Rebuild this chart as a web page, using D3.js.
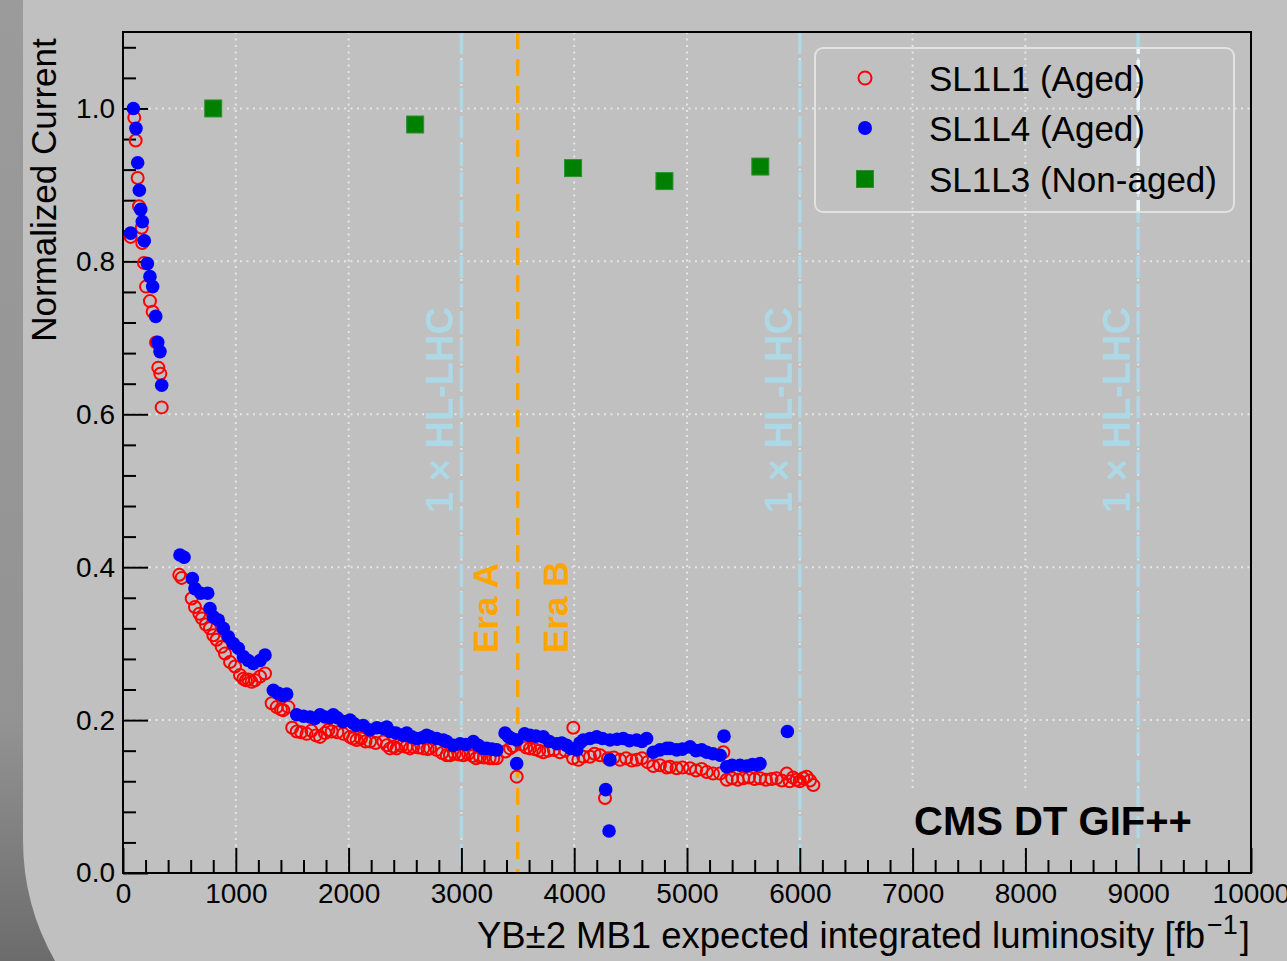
<!DOCTYPE html>
<html><head><meta charset="utf-8">
<script src="https://cdn.jsdelivr.net/npm/d3@7"></script>
<style>
body{margin:0;background:#c0c0c0;overflow:hidden;}
svg{display:block;font-family:"Liberation Sans",Arial,Helvetica,sans-serif;}
</style>
</head><body>
<svg id="chart" width="1287" height="961"></svg>
<script>
// ---------- data ----------
const sl1l1X = [68,100,112,130,142,166,171,186,204,239,263,293,313,331,343,
 499,520,609,638,677,700,735,771,801,830,875,904,949,993,1037,1067,1090,1111,1140,1170,1215,1259,
 1318,1363,1400,1421,1466,
 1500,1540,1580,1628,1670,1710,1747,1790,1820,1850,1900,1953,2012,2040,2071,2110,2150,2190,2240,2308,2340,2367,2400,2426,2470,2510,2544,2574,2620,2662,2700,2722,2781,2830,2870,2899,2940,2980,3017,3060,3100,3130,3165,3200,3250,3283,3313,
 3390,3431,3460,3490,
 3540,3575,3608,3650,3690,3726,3770,3820,3874,3920,3992,3990,4037,4080,4140,4180,4229,4273,4300,4350,4406,4460,4510,4553,4600,4650,4701,4760,4820,4849,4908,4960,5027,5080,5130,5175,5230,5293,5322,5352,5400,5450,5499,5550,5600,5647,5700,5750,5795,5840,5884,5910,5940,5972,6000,6030,6061,6090,6120];
const sl1l1Y = [0.832,0.988,0.958,0.909,0.872,0.844,0.824,0.798,0.767,0.748,0.734,0.694,0.661,0.653,0.609,
 0.390,0.386,0.359,0.348,0.339,0.333,0.325,0.320,0.311,0.305,0.296,0.287,0.276,0.270,0.259,0.254,0.252,0.253,0.250,0.252,0.257,0.261,
 0.222,0.217,0.214,0.213,0.217,
 0.190,0.185,0.184,0.182,0.186,0.180,0.178,0.183,0.187,0.185,0.184,0.182,0.178,0.176,0.174,0.176,0.172,0.172,0.170,0.172,0.167,0.163,0.165,0.163,0.166,0.165,0.163,0.165,0.164,0.163,0.162,0.163,0.161,0.157,0.154,0.154,0.156,0.155,0.154,0.156,0.153,0.150,0.152,0.151,0.150,0.150,0.150,
 0.159,0.163,0.166,0.126,
 0.168,0.164,0.163,0.162,0.160,0.158,0.160,0.161,0.158,0.160,0.190,0.150,0.148,0.152,0.152,0.156,0.154,0.098,0.150,0.151,0.148,0.150,0.147,0.148,0.150,0.145,0.140,0.141,0.138,0.139,0.137,0.138,0.137,0.134,0.136,0.132,0.130,0.130,0.158,0.122,0.124,0.122,0.124,0.125,0.123,0.124,0.122,0.123,0.124,0.121,0.130,0.120,0.125,0.122,0.120,0.124,0.126,0.121,0.115];

const sl1l4X = [92,115,130,145,157,171,68,189,216,239,263,290,308,328,343,
 505,541,615,638,689,751,771,801,845,889,934,978,1022,1067,1111,1155,1215,1259,1333,1377,1420,1451,
 1540,1600,1658,1700,1747,1790,1835,1864,1900,1951,2012,2040,2071,2130,2190,2250,2308,2338,2367,2420,2485,2515,2560,2604,2650,2692,2722,2780,2840,2870,2929,2988,3040,3106,3150,3194,3224,3270,3313,3387,3420,3446,3490,3490,
 3560,3608,3660,3726,3780,3844,3890,3933,3970,4022,4050,4081,4140,4199,4250,4279,4309,4317,4317,4380,4435,4490,4553,4600,4642,4701,4760,4820,4849,4908,4960,5027,5080,5130,5175,5230,5293,5328,5352,5400,5470,5530,5580,5618,5647,5890];
const sl1l4Y = [1.000,0.974,0.929,0.893,0.868,0.852,0.837,0.827,0.797,0.780,0.767,0.728,0.694,0.682,0.638,
 0.416,0.413,0.385,0.372,0.366,0.366,0.346,0.335,0.331,0.320,0.309,0.300,0.294,0.283,0.278,0.274,0.278,0.285,0.239,0.235,0.232,0.234,
 0.207,0.205,0.204,0.202,0.207,0.204,0.203,0.207,0.203,0.198,0.200,0.196,0.193,0.193,0.187,0.190,0.189,0.191,0.185,0.183,0.180,0.183,0.178,0.176,0.177,0.180,0.178,0.176,0.174,0.172,0.167,0.169,0.168,0.172,0.167,0.163,0.163,0.162,0.161,0.183,0.178,0.176,0.174,0.143,
 0.182,0.180,0.179,0.178,0.172,0.169,0.170,0.167,0.163,0.161,0.170,0.174,0.176,0.178,0.176,0.109,0.055,0.174,0.148,0.175,0.176,0.173,0.174,0.172,0.176,0.158,0.161,0.163,0.163,0.161,0.162,0.165,0.160,0.161,0.158,0.156,0.154,0.179,0.139,0.141,0.141,0.140,0.142,0.141,0.143,0.185];

const sl1l3X = [800,2590,3990,4800,5650];
const sl1l3Y = [1.000,0.979,0.922,0.905,0.924];

const xTicks = [0,1000,2000,3000,4000,5000,6000,7000,8000,9000,10000];
const yTicks = [0.0,0.2,0.4,0.6,0.8,1.0];
const hlLines = [3000,6000,9000];
const hlLabel = "1 × HL-LHC";
const eraLine = 3500;
const eraLabels = ["Era A","Era B"];
const legendLabels = ["SL1L1 (Aged)","SL1L4 (Aged)","SL1L3 (Non-aged)"];
const xLabel = "YB±2 MB1 expected integrated luminosity [fb";
const yLabel = "Normalized Current";
const cmsLabel = "CMS DT GIF++";

// ---------- layout ----------
const W = 1287, H = 961;
const L = 123, R = 1251, T = 32, B = 873;
const svg = d3.select("#chart");
const x = d3.scaleLinear().domain([0,10000]).range([L,R]);
const y = d3.scaleLinear().domain([0,1.1]).range([B,T]);

const defs = svg.append("defs");
const grad = defs.append("linearGradient").attr("id","strip").attr("x1",0).attr("y1",0).attr("x2",0).attr("y2",1);
grad.append("stop").attr("offset","0%").attr("stop-color","#9b9b9b");
grad.append("stop").attr("offset","75%").attr("stop-color","#939393");
grad.append("stop").attr("offset","100%").attr("stop-color","#6c6c6c");
defs.append("clipPath").attr("id","legclip").append("rect")
  .attr("x",815).attr("y",48).attr("width",419).attr("height",164).attr("rx",8);

svg.append("rect").attr("width",W).attr("height",H).attr("fill","#c0c0c0");
svg.append("path").attr("d","M0,0 H23 V840 A245,245 0 0 0 55,961 H0 Z").attr("fill","url(#strip)");

// grid
const grid = svg.append("g");
grid.selectAll("line.gx").data(xTicks.slice(1,-1)).join("line")
  .attr("x1",d=>x(d)).attr("x2",d=>x(d)).attr("y1",T).attr("y2",B)
  .attr("stroke","#e6e6e6").attr("stroke-width",2).attr("stroke-dasharray","2,4.5");
grid.selectAll("line.gy").data(yTicks.slice(1)).join("line")
  .attr("x1",L).attr("x2",R).attr("y1",d=>y(d)).attr("y2",d=>y(d))
  .attr("stroke","#e6e6e6").attr("stroke-width",2).attr("stroke-dasharray","2,4.5");

// box behind CMS label
svg.append("rect").attr("x",880).attr("y",790).attr("width",350).attr("height",58).attr("fill","#c0c0c0");

// vertical reference lines
svg.selectAll("line.hl").data(hlLines).join("line")
  .attr("x1",d=>x(d)).attr("x2",d=>x(d)).attr("y1",T).attr("y2",B)
  .attr("stroke","#add8e6").attr("stroke-width",3.5).attr("stroke-dasharray","22,6");
svg.append("g").attr("clip-path","url(#legclip)").selectAll("line").data([hlLines[2]]).join("line")
  .attr("x1",d=>x(d)).attr("x2",d=>x(d)).attr("y1",T).attr("y2",B)
  .attr("stroke","#eef6fa").attr("stroke-width",3.5).attr("stroke-dasharray","22,6");
svg.append("line").attr("x1",x(eraLine)).attr("x2",x(eraLine)).attr("y1",T).attr("y2",B)
  .attr("stroke","#ffa500").attr("stroke-width",3.5).attr("stroke-dasharray","17,10");

// axes
function styleAxis(g){
  g.select(".domain").remove();
  g.selectAll(".tick line").attr("stroke","#000").attr("stroke-width",2);
  g.selectAll(".tick text").attr("font-size",28).attr("fill","#000").attr("font-family","'Liberation Sans',Arial,sans-serif");
}
const xMinor = d3.range(0,10001,200).filter(v=>v%1000!==0);
const yMinor = d3.range(0,28).map(i=>+(i*0.04).toFixed(2)).filter(v=>Math.abs(v*5-Math.round(v*5))>1e-6 && v<=1.1);
svg.append("g").attr("transform",`translate(0,${B})`)
  .call(d3.axisBottom(x).tickValues(xMinor).tickSize(-13).tickFormat("")).call(styleAxis);
svg.append("g").attr("transform",`translate(0,${B})`)
  .call(d3.axisBottom(x).tickValues(xTicks).tickSize(-25).tickPadding(10).tickFormat(d3.format("d"))).call(styleAxis);
svg.append("g").attr("transform",`translate(${L},0)`)
  .call(d3.axisLeft(y).tickValues(yMinor).tickSize(-13).tickFormat("")).call(styleAxis);
svg.append("g").attr("transform",`translate(${L},0)`)
  .call(d3.axisLeft(y).tickValues(yTicks).tickSize(-25).tickPadding(8).tickFormat(d3.format(".1f"))).call(styleAxis);

svg.append("rect").attr("x",L).attr("y",T).attr("width",R-L).attr("height",B-T)
  .attr("fill","none").attr("stroke","#000").attr("stroke-width",2);

// data
const red = sl1l1X.map((v,i)=>({x:v,y:sl1l1Y[i]}));
const blue = sl1l4X.map((v,i)=>({x:v,y:sl1l4Y[i]}));
const green = sl1l3X.map((v,i)=>({x:v,y:sl1l3Y[i]}));
svg.append("g").selectAll("circle").data(red).join("circle")
  .attr("cx",d=>x(d.x)).attr("cy",d=>y(d.y)).attr("r",6)
  .attr("fill","none").attr("stroke","#ff0000").attr("stroke-width",2);
svg.append("g").selectAll("circle").data(blue).join("circle")
  .attr("cx",d=>x(d.x)).attr("cy",d=>y(d.y)).attr("r",6.8).attr("fill","#0000ff");
svg.append("g").selectAll("rect").data(green).join("rect")
  .attr("x",d=>x(d.x)-8.5).attr("y",d=>y(d.y)-8.5).attr("width",17).attr("height",17)
  .attr("fill","#008000").attr("stroke","#2f8f2f").attr("stroke-width",1);

// annotations
svg.selectAll("text.hl").data(hlLines).join("text")
  .attr("transform",d=>`translate(${x(d)-8},513) rotate(-90)`)
  .attr("font-size",38).attr("font-weight","bold").attr("fill","#add8e6").text(hlLabel);
svg.append("text").attr("transform",`translate(${x(eraLine)-20},653) rotate(-90)`)
  .attr("font-size",35).attr("font-weight","bold").attr("fill","#ffa500").text(eraLabels[0]);
svg.append("text").attr("transform",`translate(${x(eraLine)+50},653) rotate(-90)`)
  .attr("font-size",35).attr("font-weight","bold").attr("fill","#ffa500").text(eraLabels[1]);
svg.append("text").attr("x",1053).attr("y",835).attr("text-anchor","middle")
  .attr("font-size",40).attr("font-weight","bold").attr("fill","#000").text(cmsLabel);

// legend
const leg = svg.append("g");
leg.append("rect").attr("x",815).attr("y",48).attr("width",419).attr("height",164).attr("rx",8)
  .attr("fill","none").attr("stroke","#e2e2e2").attr("stroke-width",2);
const rowsY = [78,128,179];
leg.append("circle").attr("cx",865).attr("cy",rowsY[0]).attr("r",6.5).attr("fill","none").attr("stroke","#ff0000").attr("stroke-width",2);
leg.append("circle").attr("cx",865).attr("cy",rowsY[1]).attr("r",7).attr("fill","#0000ff");
leg.append("rect").attr("x",865-8.5).attr("y",rowsY[2]-8.5).attr("width",17).attr("height",17).attr("fill","#008000").attr("stroke","#2f8f2f");
leg.selectAll("text").data(legendLabels).join("text")
  .attr("x",929).attr("y",(d,i)=>rowsY[i]+12.5).attr("font-size",35).attr("fill","#000").text(d=>d);

// axis labels
svg.append("text").attr("transform","translate(56,190) rotate(-90)").attr("text-anchor","middle")
  .attr("font-size",35).attr("fill","#000").text(yLabel);
const xl = svg.append("text").attr("x",1250).attr("y",948).attr("text-anchor","end").attr("font-size",36.5).attr("fill","#000");
xl.append("tspan").text(xLabel);
xl.append("tspan").attr("dx",2).attr("dy",-14).attr("font-size",27).text("−1");
xl.append("tspan").attr("dx",2).attr("dy",14).text("]");
</script>
</body></html>
